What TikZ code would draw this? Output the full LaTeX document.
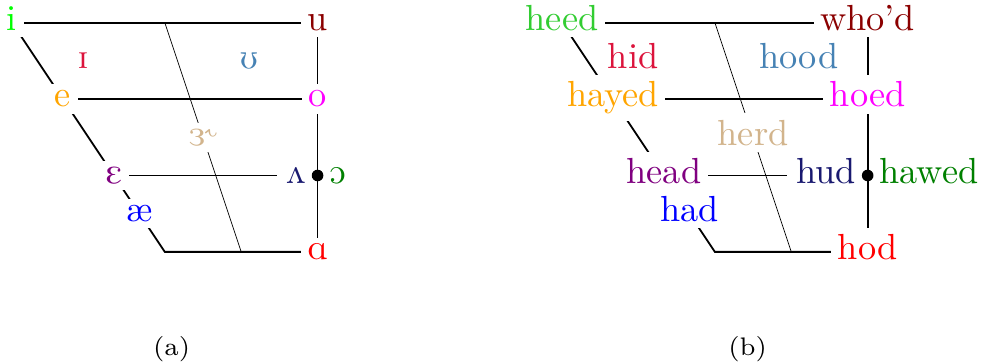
\documentclass[tikz,border=0pt]{standalone}
\usepackage{tipa}
\usetikzlibrary{backgrounds}

\definecolor{brightgreen}{RGB}{0,255,0}
\definecolor{limegreen}{RGB}{50,205,50}
\definecolor{crimson}{RGB}{220,20,60}
\definecolor{steelblue}{RGB}{70,130,180}
\definecolor{darkred}{RGB}{139,0,0}
\definecolor{gold}{RGB}{255,165,0}
\definecolor{fuchsia}{RGB}{255,0,255}
\definecolor{tan}{RGB}{210,180,140}
\definecolor{plum}{RGB}{128,0,128}
\definecolor{midnight}{RGB}{25,25,112}
\definecolor{darkgreen}{RGB}{0,128,0}

\tikzset{
  vowel/.style={anchor=mid, fill=white, inner sep=1.8pt},
  side/.style={fill=white, inner sep=2.5pt},
  centre/.style={very thin},
  caption/.style={anchor=base, font=\scriptsize},
}

% the trapezoid, drawn behind the vowel nodes
\newcommand{\trapezoid}{%
  \begin{pgfonlayer}{background}
    \begin{scope}[line width=0.5pt]
      \draw (i.mid) -- (e.mid) -- (E.mid) -- (ae.mid) -- (bl) -- (a.mid);
      \draw (i.mid) -- (u.mid) -- (o.mid) -- (a.mid);
      \draw (e.mid) -- (o.mid);
      \draw (E.mid) -- (V.mid);
    \end{scope}
    \draw[centre] (tc) -- (r.mid) -- (bc);
  \end{pgfonlayer}}

\begin{document}
\begin{tikzpicture}[x=0.74cm, y=0.74cm]
  \useasboundingbox (-0.157,-1.467) rectangle (12.762,3.297);

  % (a) symbols
  \begin{scope}[name prefix=a-]
    \node[vowel, text=brightgreen] (i) at (0,3) {i};
    \node[vowel, text=darkred] (u) at (4,3) {u};
    \node[vowel, text=crimson] (I) at (0.93,2.5) {\textipa{I}};
    \node[vowel, text=steelblue] (U) at (3.1,2.5) {\textipa{U}};
    \node[vowel, text=gold] (e) at (2/3,2) {e};
    \node[vowel, text=fuchsia] (o) at (4,2) {o};
    \node[vowel, text=tan] (r) at (2.5,1.5) {\textipa{3\textrhoticity}};
    \node[vowel, text=plum] (E) at (4/3,1) {\textipa{E}};
    \node[side, anchor=mid east, xshift=-0.6pt, text=midnight] (V) at (4,1) {\textipa{2}};
    \node[side, anchor=mid west, xshift=0.6pt, text=darkgreen] (O) at (4,1) {\textipa{O}};
    \node[vowel, text=blue] (ae) at (5/3,0.5) {æ};
    \node[vowel, text=red] (a) at (4,0) {\textipa{A}};
    \node[circle, fill, inner sep=0pt, minimum size=3.2pt] (dot) at (4,1) {};
    \coordinate (tc) at (2,3);
    \coordinate (bl) at (2,0);
    \coordinate (bc) at (3,0);
    \trapezoid
    \node[caption] (cap) at (2.09,-1.36) {(a)};
  \end{scope}

  % (b) words
  \begin{scope}[shift={(7.2,0)}, name prefix=b-]
    \node[vowel, text=limegreen] (i) at (0,3) {heed};
    \node[vowel, text=darkred] (u) at (4,3) {who'd};
    \node[vowel, text=crimson] (I) at (0.93,2.5) {hid};
    \node[vowel, text=steelblue] (U) at (3.1,2.5) {hood};
    \node[vowel, text=gold] (e) at (2/3,2) {hayed};
    \node[vowel, text=fuchsia] (o) at (4,2) {hoed};
    \node[vowel, text=tan] (r) at (2.5,1.5) {herd};
    \node[vowel, text=plum] (E) at (4/3,1) {head};
    \node[side, anchor=mid east, xshift=-0.6pt, text=midnight] (V) at (4,1) {hud};
    \node[side, anchor=mid west, xshift=0.6pt, text=darkgreen] (O) at (4,1) {hawed};
    \node[vowel, text=blue] (ae) at (5/3,0.5) {had};
    \node[vowel, text=red] (a) at (4,0) {hod};
    \node[circle, fill, inner sep=0pt, minimum size=3.2pt] (dot) at (4,1) {};
    \coordinate (tc) at (2,3);
    \coordinate (bl) at (2,0);
    \coordinate (bc) at (3,0);
    \trapezoid
    \node[caption] (cap) at (2.43,-1.36) {(b)};
  \end{scope}
\end{tikzpicture}
\end{document}
